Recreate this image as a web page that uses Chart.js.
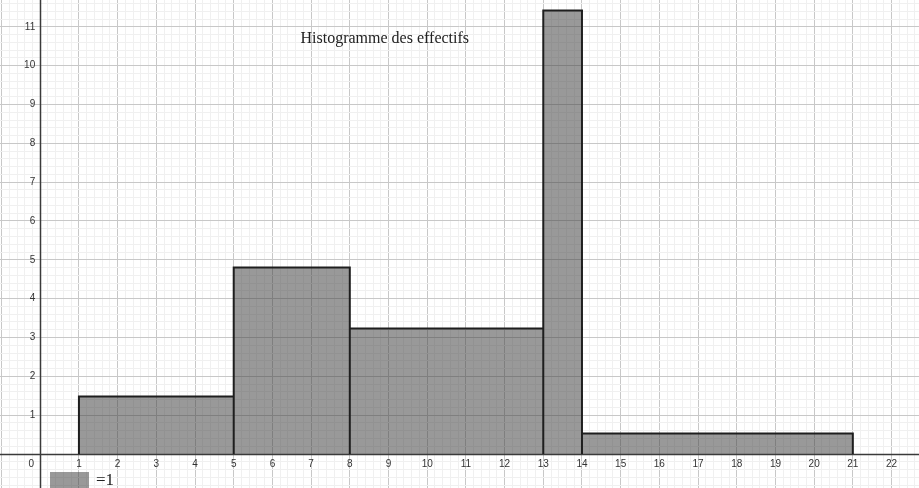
<!doctype html>
<html>
<head>
<meta charset="utf-8">
<title>Histogramme des effectifs</title>
<script src="https://cdn.jsdelivr.net/npm/chart.js"></script>
<style>
  html, body { margin: 0; padding: 0; background: #fff; }
  #wrap { width: 919px; height: 488px; }
</style>
</head>
<body>
<div id="wrap"><canvas id="histo" width="919" height="488"></canvas></div>
<script>
// class boundaries and bar heights (density)
const edges = [1, 5, 8, 13, 14, 21];
const heights = [1.48, 4.8, 3.23, 11.42, 0.53];

// axis labels
const xTicks = [1, 2, 3, 4, 5, 6, 7, 8, 9, 10, 11, 12, 13, 14, 15, 16, 17, 18, 19, 20, 21, 22];
const yTicks = [1, 2, 3, 4, 5, 6, 7, 8, 9, 10, 11];
const titleText = 'Histogramme des effectifs';
const unitText = '=1';

// visible window
const view = { xMin: -1.04, xMax: 22.71, yMin: -0.875, yMax: 11.69 };

// outline of the bars, one rectangle per class
const outline = [];
heights.forEach((h, i) => {
  outline.push({ x: edges[i], y: 0 }, { x: edges[i], y: h },
               { x: edges[i + 1], y: h }, { x: edges[i + 1], y: 0 });
});

const barFill = 'rgba(60,60,60,0.52)';
const isMajor = v => Math.abs(v - Math.round(v)) < 1e-6;
const gridColor = c => isMajor(c.tick.value) ? '#c8c8c8' : '#f0f0f0';

const axesPlugin = {
  id: 'axes',
  beforeDatasetsDraw(chart) {
    const { ctx, scales: { x, y }, chartArea } = chart;
    const x0 = Math.round(x.getPixelForValue(0)) + 0.5;
    const y0 = Math.round(y.getPixelForValue(0)) + 0.5;
    ctx.save();
    ctx.strokeStyle = '#3a3a3a';
    ctx.lineWidth = 1.5;
    ctx.beginPath();
    ctx.moveTo(chartArea.left, y0);
    ctx.lineTo(chartArea.right, y0);
    ctx.moveTo(x0, chartArea.top);
    ctx.lineTo(x0, chartArea.bottom);
    ctx.stroke();
    ctx.restore();
  },
  afterDatasetsDraw(chart) {
    const { ctx, scales: { x, y } } = chart;
    const x0 = x.getPixelForValue(0);
    const y0 = y.getPixelForValue(0);
    ctx.save();
    ctx.fillStyle = '#333';
    ctx.font = '10px "Liberation Sans", Arial, sans-serif';
    ctx.textBaseline = 'middle';

    ctx.textAlign = 'center';
    xTicks.forEach(v => ctx.fillText(String(v), x.getPixelForValue(v), y0 + 10));
    ctx.fillText('0', x0 - 9, y0 + 10);

    ctx.textAlign = 'right';
    yTicks.forEach(v => ctx.fillText(String(v), x0 - 5, y.getPixelForValue(v)));

    // title
    ctx.fillStyle = '#222';
    ctx.textAlign = 'left';
    ctx.textBaseline = 'alphabetic';
    ctx.font = '16px "Liberation Serif", "Times New Roman", serif';
    ctx.fillText(titleText, 300.5, 43);

    // unit square
    ctx.fillStyle = barFill;
    ctx.fillRect(50, 472, 39, 20);
    ctx.fillStyle = '#222';
    ctx.font = '17px "Liberation Serif", "Times New Roman", serif';
    ctx.fillText(unitText, 96, 485);
    ctx.restore();
  }
};

new Chart(document.getElementById('histo'), {
  type: 'line',
  data: {
    datasets: [{
      data: outline,
      borderColor: '#1e1e1e',
      borderWidth: 2,
      borderJoinStyle: 'miter',
      backgroundColor: barFill,
      fill: 'origin',
      pointRadius: 0,
      tension: 0
    }]
  },
  options: {
    responsive: false,
    animation: false,
    devicePixelRatio: 1,
    layout: { padding: 0 },
    plugins: { legend: { display: false }, tooltip: { enabled: false } },
    scales: {
      x: {
        type: 'linear',
        min: view.xMin,
        max: view.xMax,
        ticks: { display: false, stepSize: 0.2, includeBounds: false },
        grid: { color: gridColor, drawTicks: false },
        border: { display: false },
        afterFit: s => { s.height = 0; }
      },
      y: {
        type: 'linear',
        min: view.yMin,
        max: view.yMax,
        ticks: { display: false, stepSize: 0.2, includeBounds: false },
        grid: { color: gridColor, drawTicks: false },
        border: { display: false },
        afterFit: s => { s.width = 0; }
      }
    }
  },
  plugins: [axesPlugin]
});
</script>
</body>
</html>
